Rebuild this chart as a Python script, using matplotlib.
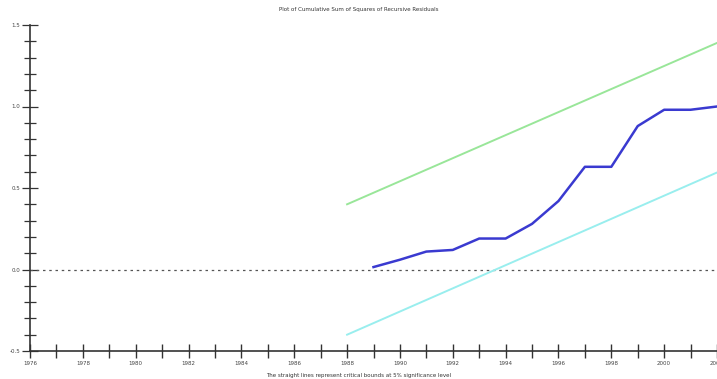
import matplotlib
matplotlib.use("Agg")
import matplotlib.pyplot as plt
from matplotlib.ticker import MultipleLocator

years = [1989, 1990, 1991, 1992, 1993, 1994, 1995, 1996, 1997, 1998, 1999, 2000, 2001, 2002]
cusumsq = [0.015, 0.06, 0.11, 0.12, 0.19, 0.19, 0.28, 0.42, 0.63, 0.63, 0.88, 0.98, 0.98, 1.0]
bound_years = [1988, 2002]
upper_bound = [0.40, 1.39]
lower_bound = [-0.40, 0.595]
xtick_labels = [str(y) for y in range(1976, 2003, 2)]
ytick_values = [-0.5, 0.0, 0.5, 1.0, 1.5]

title = "Plot of Cumulative Sum of Squares of Recursive Residuals"
caption = "The straight lines represent critical bounds at 5% significance level"

fig = plt.figure(figsize=(7.17, 3.79), dpi=100)
ax = fig.add_axes([30/717, 28/379, 687/717, 326/379])

ax.axhline(0, color="#555555", linestyle=(0, (2, 3)), linewidth=0.9)
ax.plot(bound_years, upper_bound, color="#99e699", linewidth=1.4)
ax.plot(bound_years, lower_bound, color="#99eeee", linewidth=1.4)
ax.plot(years, cusumsq, color="#3a3ad0", linewidth=1.8)

ax.set_xlim(1976, 2002)
ax.set_ylim(-0.5, 1.5)
ax.set_xticks(range(1976, 2003, 2))
ax.set_xticklabels(xtick_labels)
ax.xaxis.set_minor_locator(MultipleLocator(1))
ax.set_yticks(ytick_values)
ax.set_yticklabels([f"{v:.1f}" for v in ytick_values])
ax.yaxis.set_minor_locator(MultipleLocator(0.1))

for s in ["top", "right"]:
    ax.spines[s].set_visible(False)
for s in ["left", "bottom"]:
    ax.spines[s].set_color("#333333")
    ax.spines[s].set_linewidth(1.2)

ax.tick_params(axis="x", which="both", direction="inout", length=10, width=1.0,
               color="#333333", labelsize=4, labelcolor="#444444", pad=2)
ax.tick_params(axis="y", which="major", direction="inout", length=12, width=0.9,
               color="#333333", labelsize=4, labelcolor="#444444", pad=1)
ax.tick_params(axis="y", which="minor", direction="inout", length=8, width=0.9,
               color="#333333")

fig.text(0.5, 1 - 10/379, title, ha="center", va="center", fontsize=4, color="#333333")
fig.text(0.5, 1 - 375/379, caption, ha="center", va="center", fontsize=4, color="#333333")

fig.savefig("out.png", dpi=100)
